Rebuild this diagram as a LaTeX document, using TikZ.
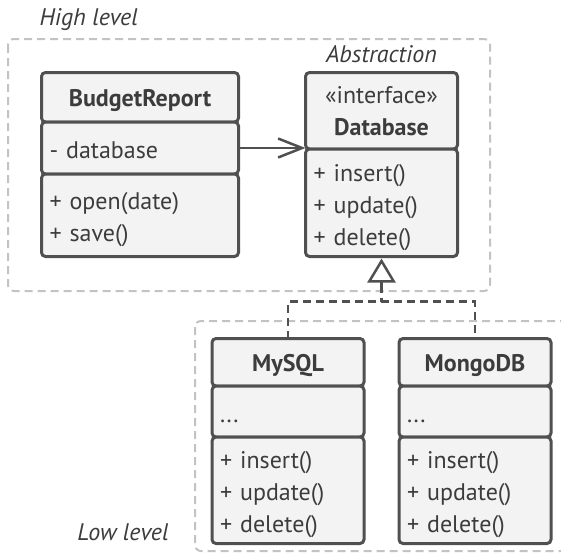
\documentclass[tikz,border=0pt]{standalone}
\usepackage{fontspec}
\setmainfont{PT Sans}
\usetikzlibrary{positioning, arrows.meta}
\definecolor{edge}{RGB}{80,80,80}
\definecolor{paper}{RGB}{243,243,243}
\definecolor{ink}{RGB}{60,60,60}
\definecolor{frameline}{RGB}{195,195,195}
% first-line struts, a little taller than \strut
\newcommand{\headstrut}{\rule[-9.6pt]{0pt}{37pt}}
\newcommand{\bodystrut}{\rule[-9.6pt]{0pt}{40.6pt}}
\begin{document}
\begin{tikzpicture}[x=1pt, y=-1pt, node distance=0pt, font=\fontsize{24}{32}\selectfont]
        \tikzset{
            part/.style   = {draw=edge, fill=paper, line width=3pt, rounded corners=4pt,
                             outer sep=0pt, inner xsep=8pt, inner ysep=0pt, text=ink},
            head/.style   = {part, align=center},
            body/.style   = {part, align=left},
            wide/.style   = {text width=181pt},
            narrow/.style = {text width=136pt},
            frame/.style  = {draw=frameline, line width=2pt, dash pattern=on 8pt off 5pt, rounded corners=6pt},
            level/.style  = {text=ink, font=\fontsize{24}{28}\selectfont\itshape},
            conn/.style   = {draw=edge, line width=2.5pt},
            tree/.style   = {conn, dash pattern=on 8pt off 5pt}
        }
        \useasboundingbox (0,0) rectangle (561,552);

        % package frames
        \draw[frame] (8,39) rectangle (490,291);
        \draw[frame] (195,321) rectangle (620,551);
        \node[level, anchor=base west] (HL) at (36,25) {High level};
        \node[level, anchor=base] (ABS) at (381.5,62) {Abstraction};
        \node[level, anchor=base east] (LL) at (172,540) {Low level};

        % classes
        \node[head, wide, minimum height=49.5pt] (BR) at (140,97.25) {\headstrut\textbf{BudgetReport}};
        \node[body, wide, minimum height=52pt, below = of BR] (BRA) {\bodystrut- database};
        \node[body, wide, minimum height=82.5pt, below = of BRA] (BRM) {\bodystrut+ open(date)\\\strut+ save()};

        \node[head, narrow, minimum height=76.5pt] (DB) at (381.5,110.75) {\headstrut«interface»\\\strut\textbf{Database}};
        \node[body, narrow, minimum height=107.5pt, below = of DB] (DBM) {\bodystrut+ insert()\\\strut+ update()\\\strut+ delete()};

        \node[head, narrow, minimum height=47.5pt] (MY) at (288,362.25) {\headstrut\textbf{MySQL}};
        \node[body, narrow, minimum height=51pt, below = of MY] (MYA) {\bodystrut...};
        \node[body, narrow, minimum height=106.5pt, below = of MYA] (MYM) {\bodystrut+ insert()\\\strut+ update()\\\strut+ delete()};

        \node[head, narrow, minimum height=47.5pt] (MG) at (475,362.25) {\headstrut\textbf{MongoDB}};
        \node[body, narrow, minimum height=51pt, below = of MG] (MGA) {\bodystrut...};
        \node[body, narrow, minimum height=106.5pt, below = of MGA] (MGM) {\bodystrut+ insert()\\\strut+ update()\\\strut+ delete()};

        % relations
        \coordinate[below = 28pt of DBM.south] (TRI);
        \coordinate[below = 45pt of DBM.south] (JN);
        \draw[conn, -{Straight Barb[length=24pt, width=19pt]}] (BRA.east) -- (BRA.east -| DB.west);
        \draw[conn, -{Triangle[open, length=24pt, width=28pt]}, shorten >= 2pt] (TRI) -- (DBM.south);
        \draw[tree] (TRI) -- (JN);
        \draw[tree] (MY.north) |- (JN) -| (MG.north);
    \end{tikzpicture}
\end{document}
